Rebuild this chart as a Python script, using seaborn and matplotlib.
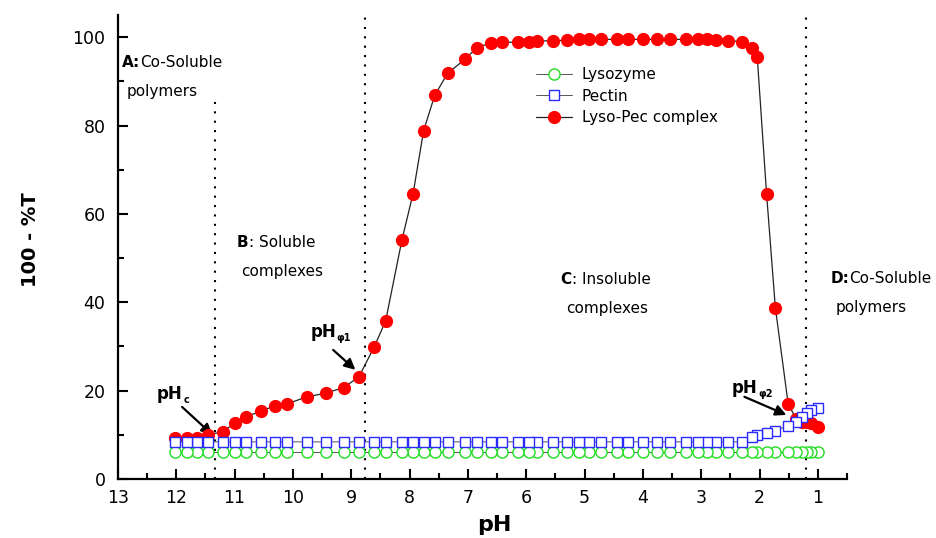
import matplotlib
matplotlib.use("Agg")
import matplotlib.pyplot as plt
import seaborn as sns
import numpy as np
from matplotlib.ticker import MultipleLocator

sns.set_style("ticks")
plt.rcParams['font.family'] = ['DejaVu Sans']
plt.rcParams['mathtext.fontset'] = 'dejavusans'
plt.rcParams['text.color'] = 'black'
plt.rcParams['axes.labelcolor'] = 'black'
plt.rcParams['xtick.color'] = 'black'
plt.rcParams['ytick.color'] = 'black'

# ---------------- data ----------------
ph = [12.02, 11.82, 11.64, 11.45, 11.2, 11.0, 10.8, 10.54, 10.3, 10.1,
      9.76, 9.44, 9.13, 8.87, 8.61, 8.41, 8.13, 7.94, 7.76, 7.57,
      7.35, 7.05, 6.85, 6.61, 6.41, 6.14, 5.95, 5.82, 5.55, 5.30,
      5.09, 4.92, 4.72, 4.44, 4.25, 4.0, 3.76, 3.54, 3.26, 3.06,
      2.91, 2.74, 2.54, 2.30, 2.13, 2.04, 1.88, 1.73, 1.51, 1.37,
      1.28, 1.18, 1.11, 0.99]

lysozyme = [6.0, 6.0, 6.0, 6.0, 6.0, 6.0, 6.0, 6.0, 6.0, 6.0,
            6.0, 6.0, 6.0, 6.0, 6.0, 6.0, 6.0, 6.0, 6.0, 6.0,
            6.0, 6.0, 6.0, 6.0, 6.0, 6.0, 6.0, 6.0, 6.0, 6.0,
            6.0, 6.0, 6.0, 6.0, 6.0, 6.0, 6.0, 6.0, 6.0, 6.0,
            6.0, 6.0, 6.0, 6.0, 6.0, 6.0, 6.0, 6.0, 6.0, 6.0,
            6.0, 6.0, 6.0, 6.0]

pectin = [8.4, 8.4, 8.4, 8.4, 8.4, 8.4, 8.4, 8.4, 8.4, 8.4,
          8.4, 8.4, 8.4, 8.4, 8.4, 8.4, 8.4, 8.4, 8.4, 8.4,
          8.4, 8.4, 8.4, 8.4, 8.4, 8.4, 8.4, 8.4, 8.4, 8.4,
          8.4, 8.4, 8.4, 8.4, 8.4, 8.4, 8.4, 8.4, 8.4, 8.4,
          8.4, 8.4, 8.4, 8.4, 9.4, 10.0, 10.4, 10.9, 12.1, 13.0,
          14.1, 14.9, 15.6, 16.0]

complex_ = [9.3, 9.3, 9.3, 10.0, 10.7, 12.6, 14.1, 15.4, 16.6, 17.0,
            18.6, 19.4, 20.7, 23.1, 29.8, 35.8, 54.2, 64.6, 78.8, 86.8,
            91.8, 95.0, 97.6, 98.7, 98.8, 98.9, 98.9, 99.1, 99.2, 99.3,
            99.5, 99.5, 99.5, 99.5, 99.5, 99.5, 99.5, 99.5, 99.5, 99.5,
            99.5, 99.4, 99.2, 99.0, 97.6, 95.5, 64.5, 38.8, 17.0, 13.5,
            13.0, 12.8, 12.6, 11.8]

labels = ["Lysozyme", "Pectin", "Lyso-Pec complex"]
x_ticks = [13, 12, 11, 10, 9, 8, 7, 6, 5, 4, 3, 2, 1]
y_ticks = [0, 20, 40, 60, 80, 100]
boundaries = [11.33, 8.77, 1.2]

# ---------------- figure ----------------
fig = plt.figure(figsize=(9.36, 5.38), dpi=100)
ax = fig.add_axes([0.126, 0.1097, 0.905 - 0.126, 0.972 - 0.1097])

sns.lineplot(x=ph, y=lysozyme, ax=ax, estimator=None, color='#555555', lw=0.7,
             marker='o', markersize=8, markerfacecolor='white',
             markeredgecolor='#22dd22', markeredgewidth=1.0, label=labels[0], zorder=3)
sns.lineplot(x=ph, y=complex_, ax=ax, estimator=None, color='#222222', lw=0.9,
             marker='o', markersize=8.5, markerfacecolor='#ff0000',
             markeredgecolor='#ff0000', markeredgewidth=1.0, label=labels[2], zorder=4)
sns.lineplot(x=ph, y=pectin, ax=ax, estimator=None, color='#555555', lw=0.7,
             marker='s', markersize=7.5, markerfacecolor='white',
             markeredgecolor='#2a2aff', markeredgewidth=1.0, label=labels[1], zorder=5)

ax.set_xlim(13, 0.5)
ax.set_ylim(0, 105)
ax.set_xticks(x_ticks)
ax.set_yticks(y_ticks)
ax.xaxis.set_minor_locator(MultipleLocator(0.5))
ax.yaxis.set_minor_locator(MultipleLocator(10))
ax.tick_params(which='both', direction='in', width=1.5, labelsize=12.5, colors='black')
ax.tick_params(which='major', length=7)
ax.tick_params(which='minor', length=4)
ax.tick_params(axis='x', pad=7)
ax.tick_params(axis='y', pad=9)
for s in ['top', 'right']:
    ax.spines[s].set_visible(False)
for s in ['left', 'bottom']:
    ax.spines[s].set_linewidth(1.6)
    ax.spines[s].set_color('black')

ax.set_xlabel('pH', fontsize=16, fontweight='bold')
ax.set_ylabel('100 - %T', fontsize=14, fontweight='bold')
ax.xaxis.set_label_coords(0.516, -0.078)
ax.yaxis.set_label_coords(-0.107, 0.515)

# boundary dotted lines
ax.vlines(boundaries[0], 0, 86, colors='black', linestyles=(0, (1, 3.5)), lw=1.5)
ax.vlines(boundaries[1], 0, 105, colors='black', linestyles=(0, (1, 3.5)), lw=1.5)
ax.vlines(boundaries[2], 0, 105, colors='black', linestyles=(0, (1, 3.5)), lw=1.5)

# region labels (bold letter + regular text)
def region(x, y, letter, rest, second):
    t1 = ax.text(x, y[0], letter, fontsize=11, fontweight='bold', va='center', ha='left')
    ax.annotate(rest, xy=(1, 0), xycoords=t1, fontsize=11, va='bottom', ha='left')
    ax.text(second[0], second[1], second[2], fontsize=11, va='center', ha='left')

region(12.93, (94.2,), 'A:', 'Co-Soluble', (12.85, 87.6, 'polymers'))
region(10.96, (53.5,), 'B', ': Soluble', (10.89, 46.9, 'complexes'))
region(5.41, (45.2,), 'C', ': Insoluble', (5.32, 38.6, 'complexes'))
region(0.78, (45.4,), 'D:', 'Co-Soluble', (0.70, 38.8, 'polymers'))

# pH annotations with arrows
def ph_label(x, y, sub, tail, head):
    t = ax.text(x, y, 'pH', fontsize=12, fontweight='bold', va='center', ha='left')
    ax.annotate(sub, xy=(1, 0), xycoords=t, xytext=(0.5, -1.5), textcoords='offset points',
                fontsize=7, fontweight='bold', va='bottom', ha='left')
    ax.annotate('', xy=head, xytext=tail,
                arrowprops=dict(arrowstyle='-|>', color='black', lw=1.6, mutation_scale=16,
                                shrinkA=0, shrinkB=0))

ph_label(12.33, 19.2, 'c', (11.90, 16.3), (11.38, 10.0))
ph_label(9.70, 33.3, 'φ1', (9.31, 29.2), (8.93, 24.7))
ph_label(2.48, 20.6, 'φ2', (2.26, 18.6), (1.54, 14.5))

# legend
handles, labs = ax.get_legend_handles_labels()
order = [labs.index(l) for l in labels]
leg = ax.legend([handles[i] for i in order], [labs[i] for i in order],
                loc='upper left', bbox_to_anchor=(0.573, 0.888), frameon=False,
                fontsize=11, handlelength=2.4, handletextpad=0.6, labelspacing=0.44,
                borderpad=0, borderaxespad=0)

fig.savefig('out.png', dpi=100, facecolor='white')
